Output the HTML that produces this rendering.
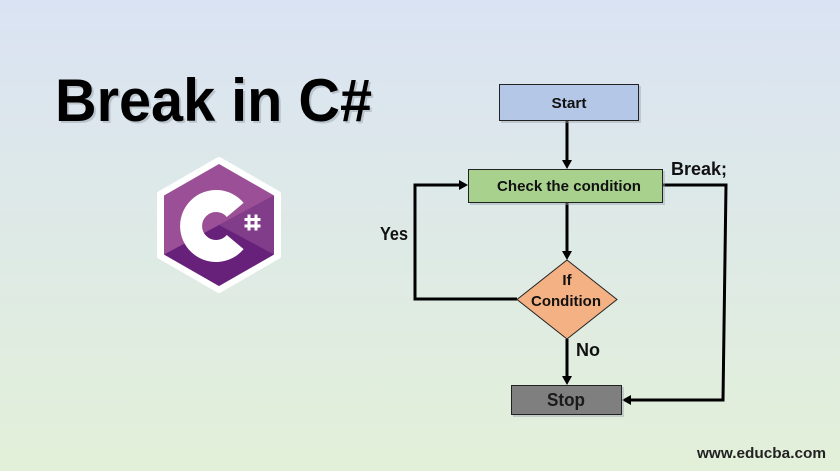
<!DOCTYPE html>
<html>
<head>
<meta charset="utf-8">
<style>
  html,body{margin:0;padding:0;}
  body{width:840px;height:471px;overflow:hidden;}
  svg{display:block;}
  text{font-family:"Liberation Sans",Arial,sans-serif;font-weight:bold;}
</style>
</head>
<body>
<svg width="840" height="471" viewBox="0 0 840 471" xmlns="http://www.w3.org/2000/svg">
  <defs>
    <linearGradient id="bg" x1="0" y1="0" x2="0" y2="1">
      <stop offset="0" stop-color="#dae3f3"/>
      <stop offset="1" stop-color="#e2f0d9"/>
    </linearGradient>
    <clipPath id="hexclip">
      <polygon points="219,164 274,195.5 274,254.5 219,286 164,254.5 164,195.5"/>
    </clipPath>
  </defs>
  <rect x="0" y="0" width="840" height="471" fill="url(#bg)"/>

  <!-- Title -->
  <text x="57" y="123" font-size="60" fill="#9aa3ad" opacity="0.5" textLength="317" lengthAdjust="spacingAndGlyphs">Break in C#</text>
  <text x="55" y="121" font-size="60" fill="#000" textLength="317" lengthAdjust="spacingAndGlyphs">Break in C#</text>

  <!-- C# logo -->
  <polygon points="219,160 278,194 278,256 219,290 160,256 160,194" fill="#ffffff" stroke="#ffffff" stroke-width="6" stroke-linejoin="round"/>
  <g clip-path="url(#hexclip)">
    <rect x="150" y="150" width="140" height="150" fill="#9b4f96"/>
    <polygon points="164,254.5 219,225 274,195.5 290,195.5 290,300 150,300 150,254.5" fill="#68217a"/>
    <polygon points="219,225 274,195.5 274,254.5" fill="#813c8a"/>
  </g>
  <!-- C letter: center (216,226), mid radius 25, stroke 22 -->
  <path d="M 235.2 209.9 A 25 25 0 1 0 235.2 242.1" fill="none" stroke="#ffffff" stroke-width="22"/>
  <!-- # -->
  <g stroke="#ffffff" stroke-width="3">
    <line x1="249" y1="214.5" x2="249" y2="230.5"/>
    <line x1="256" y1="214.5" x2="256" y2="230.5"/>
    <line x1="244.5" y1="219.5" x2="260.5" y2="219.5"/>
    <line x1="244.5" y1="226" x2="260.5" y2="226"/>
  </g>

  <!-- Connectors -->
  <g stroke="#000" stroke-width="3" fill="none">
    <line x1="567" y1="121" x2="567" y2="161"/>
    <line x1="567" y1="203" x2="567" y2="252"/>
    <line x1="567" y1="339" x2="567" y2="377"/>
    <polyline points="517,299 415,299 415,185 460,185"/>
    <polyline points="663,185 726,185 723,400 630,400"/>
  </g>
  <g fill="#000">
    <polygon points="562,160 572,160 567,169"/>
    <polygon points="562,251 572,251 567,260"/>
    <polygon points="562,376 572,376 567,385"/>
    <polygon points="459,180 459,190 468,185"/>
    <polygon points="631,395 631,405 622,400"/>
  </g>

  <!-- Start box -->
  <rect x="501" y="86" width="140" height="37" fill="#9aa3ad" opacity="0.45"/>
  <rect x="499.5" y="84.5" width="139" height="36" fill="#b4c7e7" stroke="#222" stroke-width="1"/>
  <text x="569" y="108" font-size="14.5" text-anchor="middle" fill="#111" textLength="35" lengthAdjust="spacingAndGlyphs">Start</text>

  <!-- Check box -->
  <rect x="470" y="171" width="195" height="34" fill="#9aa3ad" opacity="0.45"/>
  <rect x="468.5" y="169.5" width="194" height="33" fill="#a9d18e" stroke="#222" stroke-width="1"/>
  <text x="569" y="191" font-size="15" text-anchor="middle" fill="#111" textLength="144" lengthAdjust="spacingAndGlyphs">Check the condition</text>

  <!-- Diamond -->
  <polygon points="567,260 617,299.5 567,339 517,299.5" fill="#f4b183" stroke="#222" stroke-width="1"/>
  <text x="567" y="285" font-size="15" text-anchor="middle" fill="#111">If</text>
  <text x="566" y="306" font-size="15" text-anchor="middle" fill="#111" textLength="70" lengthAdjust="spacingAndGlyphs">Condition</text>

  <!-- Stop box -->
  <rect x="513" y="387" width="111" height="30" fill="#9aa3ad" opacity="0.45"/>
  <rect x="511.5" y="385.5" width="110" height="29" fill="#7f7f7f" stroke="#222" stroke-width="1"/>
  <text x="566" y="406" font-size="18" text-anchor="middle" fill="#1a1a1a" textLength="38" lengthAdjust="spacingAndGlyphs">Stop</text>

  <!-- Labels -->
  <text x="671" y="175" font-size="18" fill="#111" textLength="56" lengthAdjust="spacingAndGlyphs">Break;</text>
  <text x="380" y="240" font-size="18" fill="#111" textLength="28" lengthAdjust="spacingAndGlyphs">Yes</text>
  <text x="576" y="356" font-size="18" fill="#111" textLength="24" lengthAdjust="spacingAndGlyphs">No</text>
  <text x="697" y="458" font-size="15" fill="#222" textLength="129" lengthAdjust="spacingAndGlyphs">www.educba.com</text>
</svg>
</body>
</html>
